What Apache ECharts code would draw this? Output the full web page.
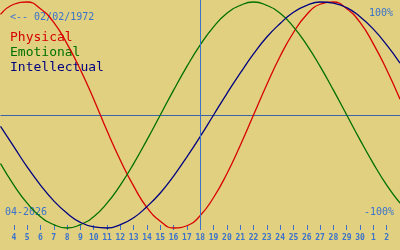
<!DOCTYPE html>
<html><head><meta charset="utf-8">
<script src="https://cdn.jsdelivr.net/npm/echarts@6/dist/echarts.min.js"></script>
<style>html,body{margin:0;padding:0;background:#e0d080;}#c{width:400px;height:250px;}</style>
</head><body><div id="c"></div>
<script>
// Days: April 3 .. May 3 (first and last are edge points, unlabeled)
var days = ['3','4','5','6','7','8','9','10','11','12','13','14','15','16','17','18','19','20','21','22','23','24','25','26','27','28','29','30','1','2','3'];
var physical = [0.89,0.98,1.00,0.94,0.82,0.63,0.40,0.14,-0.14,-0.40,-0.63,-0.82,-0.94,-1.00,-0.98,-0.89,-0.73,-0.52,-0.27,0,0.27,0.52,0.73,0.89,0.98,1.00,0.94,0.82,0.63,0.40,0.14];
var emotional = [-0.43,-0.62,-0.78,-0.90,-0.97,-1.00,-0.97,-0.90,-0.78,-0.62,-0.43,-0.22,0,0.22,0.43,0.62,0.78,0.90,0.97,1.00,0.97,0.90,0.78,0.62,0.43,0.22,0,-0.22,-0.43,-0.62,-0.78];
var intellectual = [-0.10,-0.28,-0.46,-0.62,-0.76,-0.87,-0.95,-0.99,-1.00,-0.97,-0.91,-0.81,-0.69,-0.54,-0.37,-0.19,0,0.19,0.37,0.54,0.69,0.81,0.91,0.97,1.00,0.99,0.95,0.87,0.76,0.62,0.46];
var todayIndex = 15; // April 18
var seriesNames = ['Physical','Emotional','Intellectual'];
var seriesColors = ['#d80000','#007000','#000080'];

var chart = echarts.init(document.getElementById('c'), null, {renderer:'canvas'});
var mono = 'DejaVu Sans Mono, monospace';
var blue = '#3a72cc';
function mk(name, data, color){
  return {name:name, type:'line', data:data, smooth:true, symbol:'none', clip:false,
    lineStyle:{color:color, width:1.3}, itemStyle:{color:color}, z:3};
}
var series = [mk(seriesNames[0], physical, seriesColors[0]), mk(seriesNames[1], emotional, seriesColors[1]), mk(seriesNames[2], intellectual, seriesColors[2])];
series[0].markLine = {silent:true, symbol:'none', label:{show:false},
  lineStyle:{color:blue, width:1, type:'solid'},
  data:[[{xAxis: todayIndex, y: 0}, {xAxis: todayIndex, y: 229}]]};
chart.setOption({
  backgroundColor:'#e0d080',
  animation:false,
  grid:{left:0.5, width:400, top:2, height:226},
  xAxis:{type:'category', data:days, boundaryGap:false, offset:-3,
    axisLine:{show:false, onZero:false},
    axisTick:{show:true, length:5, lineStyle:{color:blue, width:1}, interval:function(i){return i>0 && i<days.length-1;}},
    axisLabel:{color:blue, fontFamily:mono, fontSize:8, fontWeight:'bold', margin:9, interval:function(i){return i>0 && i<days.length-1;}},
    splitLine:{show:false}},
  yAxis:{type:'value', min:-1, max:1, interval:1, axisLabel:{show:false}, axisLine:{show:false}, axisTick:{show:false},
    splitLine:{show:true, lineStyle:{color:['rgba(0,0,0,0)','#3a64a8','rgba(0,0,0,0)'], width:1}}},
  graphic:[
    {type:'text', left:10, top:12, style:{text:'<-- 02/02/1972', fill:blue, font:'10px '+mono}},
    {type:'text', right:7, top:8, style:{text:'100%', fill:blue, font:'10px '+mono}},
    {type:'text', left:5, top:207, style:{text:'04-2026', fill:blue, font:'10px '+mono}},
    {type:'text', right:6, top:207, style:{text:'-100%', fill:blue, font:'10px '+mono}},
    {type:'text', left:10, top:31, style:{text:seriesNames[0], fill:seriesColors[0], font:'13px '+mono}},
    {type:'text', left:10, top:46, style:{text:seriesNames[1], fill:seriesColors[1], font:'13px '+mono}},
    {type:'text', left:10, top:61, style:{text:seriesNames[2], fill:seriesColors[2], font:'13px '+mono}}
  ],
  series:series
});
</script></body></html>
